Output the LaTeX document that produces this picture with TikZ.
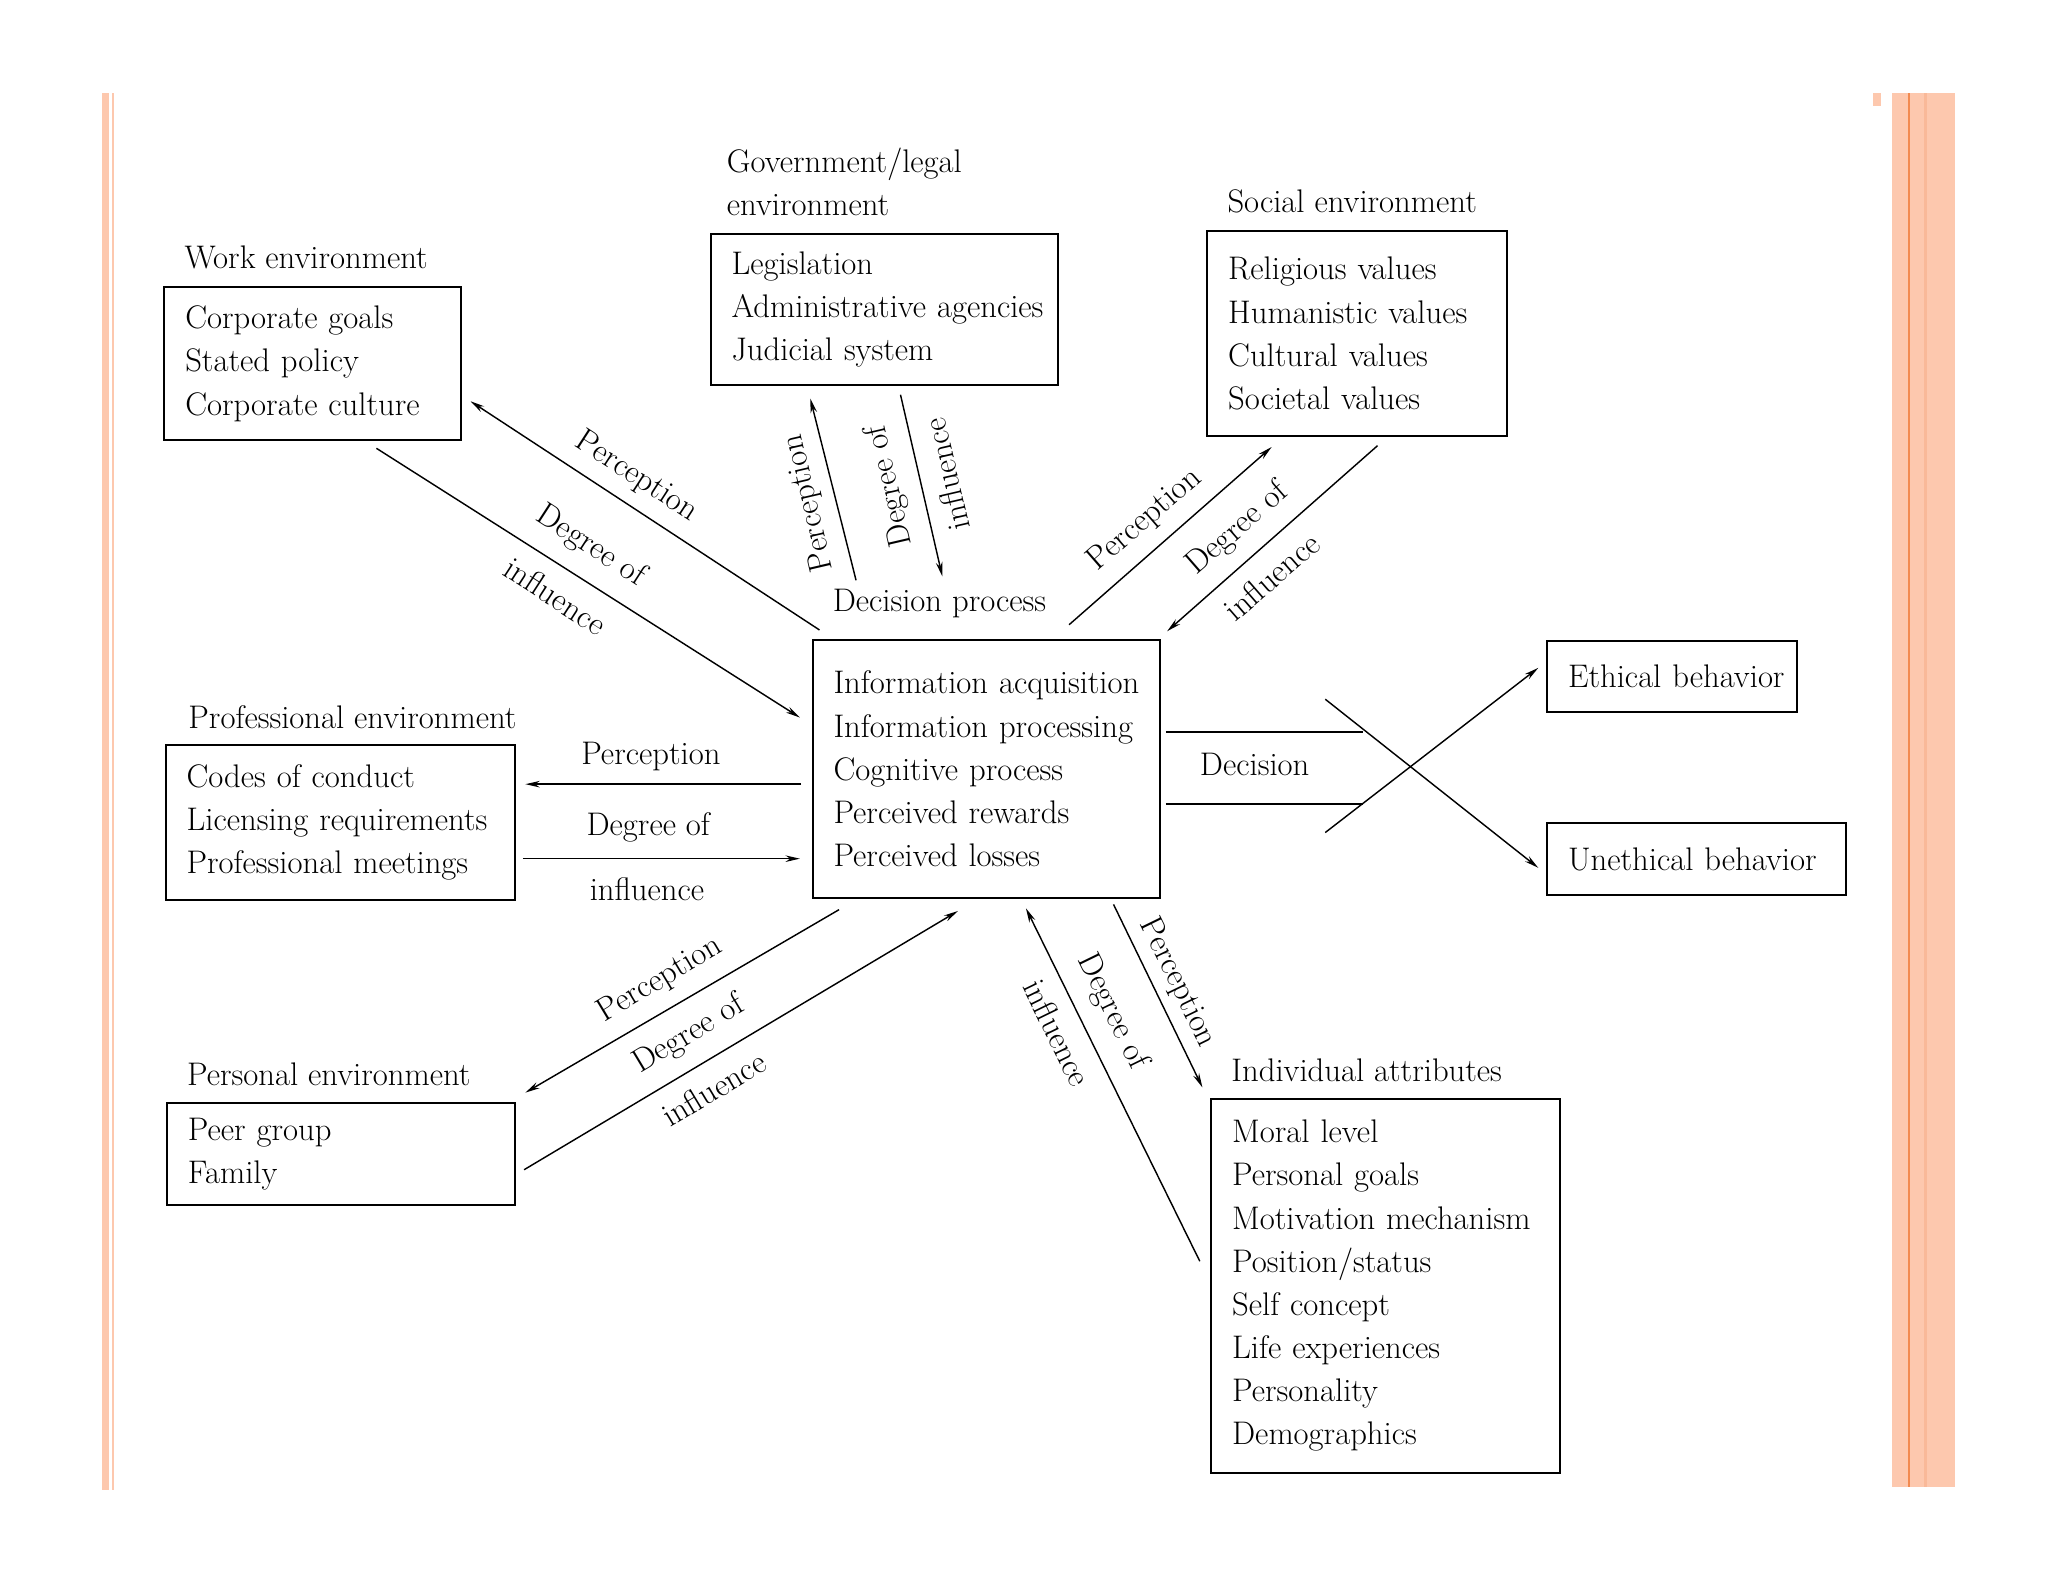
\documentclass[tikz,border=0pt]{standalone}
\usepackage{fontspec}
\usetikzlibrary{arrows.meta}
\definecolor{barfill}{HTML}{FDC8AE}
\definecolor{barline}{HTML}{F28A50}
\definecolor{barstripe}{HTML}{F9B999}
\begin{document}
\begin{tikzpicture}[x=1pt,y=-1pt,
  txt/.style={font=\fontsize{25}{33}\selectfont, inner sep=0pt},
  box/.style={draw, line width=1.5pt, txt, align=left, inner xsep=16pt, inner ysep=0pt, anchor=north west},
  ttl/.style={txt, anchor=west, align=left},
  lbl/.style={txt, align=center},
  arr/.style={line width=1.1pt, -{Stealth[length=11pt,width=5pt]}},
  ln/.style={line width=1.1pt}]
\useasboundingbox (0,0) rectangle (1567,1210);

% decorative side bars
\fill[barfill] (78,71) rectangle (83.4,1140);
\fill[barfill] (85.7,71) rectangle (87.2,1140);
\fill[barfill] (1433,71) rectangle (1439,81);
\fill[barfill] (1448,71) rectangle (1496,1138);
\fill[barstripe] (1472,71) rectangle (1474.5,1138);
\fill[barline] (1460,71) rectangle (1461.5,1138);

% boxes
\node[box, text width=195pt, minimum height=117pt] (work) at (125,219)
  {\mbox{Corporate goals}\\\mbox{Stated policy}\\\mbox{Corporate culture}};
\node[box, text width=234pt, minimum height=116pt] (gov) at (543,178)
  {\mbox{Legislation}\\\mbox{Administrative agencies}\\\mbox{Judicial system}};
\node[box, text width=197pt, minimum height=157pt] (soc) at (923,176)
  {\mbox{Religious values}\\\mbox{Humanistic values}\\\mbox{Cultural values}\\\mbox{Societal values}};
\node[box, text width=234pt, minimum height=197pt] (dec) at (621,489)
  {\mbox{Information acquisition}\\\mbox{Information processing}\\\mbox{Cognitive process}\\\mbox{Perceived rewards}\\\mbox{Perceived losses}};
\node[box, text width=235pt, minimum height=119pt] (prof) at (126,569)
  {\mbox{Codes of conduct}\\\mbox{Licensing requirements}\\\mbox{Professional meetings}};
\node[box, text width=234pt, minimum height=78pt] (pers) at (127,843)
  {\mbox{Peer group}\\\mbox{Family}};
\node[box, text width=235pt, minimum height=286pt] (ind) at (926,840)
  {\mbox{Moral level}\\\mbox{Personal goals}\\\mbox{Motivation mechanism}\\\mbox{Position/status}\\\mbox{Self concept}\\\mbox{Life experiences}\\\mbox{Personality}\\\mbox{Demographics}};
\node[box, text width=159pt, minimum height=54pt] (eth) at (1183,490) {\mbox{Ethical behavior}};
\node[box, text width=197pt, minimum height=55pt] (uneth) at (1183,629) {\mbox{Unethical behavior}};

% titles
\node[ttl] (tWork) at (141,197) {Work environment};
\node[ttl] (tGov) at (556,139) {Government/legal\\environment};
\node[ttl] (tSoc) at (939,154) {Social environment};
\node[ttl] (tDec) at (637,462) {Decision process};
\node[ttl] (tProf) at (144,549) {Professional environment};
\node[ttl] (tPers) at (143,822) {Personal environment};
\node[ttl] (tInd) at (942,819) {Individual attributes};

% connector end points
\coordinate (wP1) at (627,482); \coordinate (wP2) at (360,307);
\coordinate (wD1) at (288,343); \coordinate (wD2) at (612,549);
\coordinate (gP1) at (655,444); \coordinate (gP2) at (620,305);
\coordinate (gD1) at (689,302); \coordinate (gD2) at (721,441);
\coordinate (sP1) at (818,478); \coordinate (sP2) at (973,342);
\coordinate (sD1) at (1054,341); \coordinate (sD2) at (893,483);
\coordinate (pP1) at (613,600); \coordinate (pP2) at (402,600);
\coordinate (pD1) at (400,657); \coordinate (pD2) at (612,657);
\coordinate (eP1) at (642,696); \coordinate (eP2) at (402,836);
\coordinate (eD1) at (401,895); \coordinate (eD2) at (733,697);
\coordinate (iP1) at (852,692); \coordinate (iP2) at (920,832);
\coordinate (iD1) at (918,965); \coordinate (iD2) at (785,695);
\coordinate (h1a) at (892,560); \coordinate (h1b) at (1043,560);
\coordinate (h2a) at (892,615); \coordinate (h2b) at (1043,615);
\coordinate (x1a) at (1014,535); \coordinate (x1b) at (1177,664);
\coordinate (x2a) at (1014,637); \coordinate (x2b) at (1177,511);

% connectors
\draw[arr] (wP1) -- (wP2);
\draw[arr] (wD1) -- (wD2);
\draw[arr] (gP1) -- (gP2);
\draw[arr] (gD1) -- (gD2);
\draw[arr] (sP1) -- (sP2);
\draw[arr] (sD1) -- (sD2);
\draw[arr] (pP1) -- (pP2);
\draw[arr] (pD1) -- (pD2);
\draw[arr] (eP1) -- (eP2);
\draw[arr] (eD1) -- (eD2);
\draw[arr] (iP1) -- (iP2);
\draw[arr] (iD1) -- (iD2);
\draw[ln] (h1a) -- (h1b);
\draw[ln] (h2a) -- (h2b);
\draw[arr] (x1a) -- (x1b);
\draw[arr] (x2a) -- (x2b);

% connector labels
\node[lbl, rotate=-33] (lwP) at (487,365) {Perception};
\node[lbl, rotate=-33] (lwD) at (452,418) {Degree of};
\node[lbl, rotate=-33] (lwI) at (425,456) {influence};
\node[lbl, rotate=103] (lgP) at (619,385) {Perception};
\node[lbl, rotate=103] (lgD) at (681,372) {Degree of};
\node[lbl, rotate=103] (lgI) at (724,363) {influence};
\node[lbl, rotate=41] (lsP) at (876,398) {Perception};
\node[lbl, rotate=41] (lsD) at (947,405) {Degree of};
\node[lbl, rotate=41] (lsI) at (973,441) {influence};
\node[lbl] (lpP) at (498,579) {Perception};
\node[lbl] (lpD) at (496,633) {Degree of};
\node[lbl] (lpI) at (495,680) {influence};
\node[lbl, rotate=31] (leP) at (505,750) {Perception};
\node[lbl, rotate=31] (leD) at (527,792) {Degree of};
\node[lbl, rotate=31] (leI) at (546,833) {influence};
\node[lbl, rotate=-64] (liP) at (901,752) {Perception};
\node[lbl, rotate=-64] (liD) at (851,774) {Degree of};
\node[lbl, rotate=-64] (liI) at (809,790) {influence};
\node[lbl] (lDec) at (960,585) {Decision};
\end{tikzpicture}
\end{document}
